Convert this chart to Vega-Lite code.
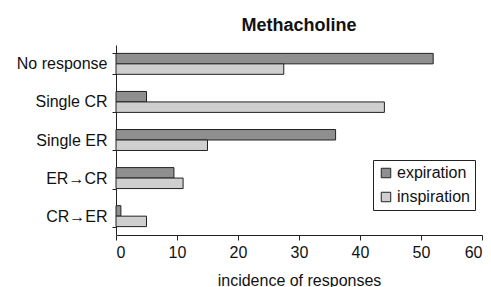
{
  "$schema": "https://vega.github.io/schema/vega-lite/v6.json",
  "autosize": "none",
  "width": 366,
  "height": 190,
  "padding": {"left": 116, "top": 45, "right": 9, "bottom": 52},
  "background": "white",
  "config": {
    "font": "Liberation Sans",
    "view": {"stroke": null}
  },
  "title": {
    "text": "Methacholine",
    "fontSize": 18,
    "fontWeight": "bold",
    "color": "#111",
    "offset": 2,
    "anchor": "middle"
  },
  "data": {
    "values": [
      {"response": "No response", "phase": "expiration", "value": 52},
      {"response": "No response", "phase": "inspiration", "value": 27.5},
      {"response": "Single CR", "phase": "expiration", "value": 5},
      {"response": "Single CR", "phase": "inspiration", "value": 44},
      {"response": "Single ER", "phase": "expiration", "value": 36},
      {"response": "Single ER", "phase": "inspiration", "value": 15},
      {"response": "ER→CR", "phase": "expiration", "value": 9.5},
      {"response": "ER→CR", "phase": "inspiration", "value": 11},
      {"response": "CR→ER", "phase": "expiration", "value": 0.8},
      {"response": "CR→ER", "phase": "inspiration", "value": 5}
    ]
  },
  "mark": {"type": "bar", "stroke": "#222", "strokeWidth": 1},
  "encoding": {
    "y": {
      "field": "response",
      "type": "nominal",
      "sort": ["No response", "Single CR", "Single ER", "ER→CR", "CR→ER"],
      "scale": {"paddingInner": 0.45, "paddingOuter": 0.22},
      "axis": {
        "title": null,
        "labelFontSize": 16,
        "labelColor": "#111",
        "labelPadding": 5,
        "domainColor": "#222",
        "tickColor": "#222",
        "tickBand": "extent",
        "tickSize": 4
      }
    },
    "yOffset": {
      "field": "phase",
      "type": "nominal",
      "sort": ["expiration", "inspiration"]
    },
    "x": {
      "field": "value",
      "type": "quantitative",
      "scale": {"domain": [0, 60], "nice": false},
      "axis": {
        "title": "incidence of responses",
        "titleFontSize": 16,
        "titleFontWeight": "normal",
        "titleColor": "#111",
        "labelFontSize": 16,
        "labelColor": "#111",
        "labelPadding": 4,
        "values": [0, 10, 20, 30, 40, 50, 60],
        "grid": false,
        "domainColor": "#222",
        "tickColor": "#222",
        "tickSize": 5,
        "titlePadding": 12
      }
    },
    "fill": {
      "field": "phase",
      "type": "nominal",
      "scale": {"domain": ["expiration", "inspiration"], "range": ["#8f8f8f", "#cfcfcf"]},
      "legend": {
        "title": null,
        "orient": "none",
        "legendX": 257,
        "legendY": 115,
        "symbolType": "square",
        "symbolSize": 90,
        "symbolStrokeColor": "#222",
        "symbolStrokeWidth": 1,
        "labelFontSize": 16,
        "labelColor": "#111",
        "labelOffset": 3,
        "rowPadding": 8,
        "strokeColor": "#222",
        "padding": 5,
        "fillColor": "white"
      }
    }
  }
}
